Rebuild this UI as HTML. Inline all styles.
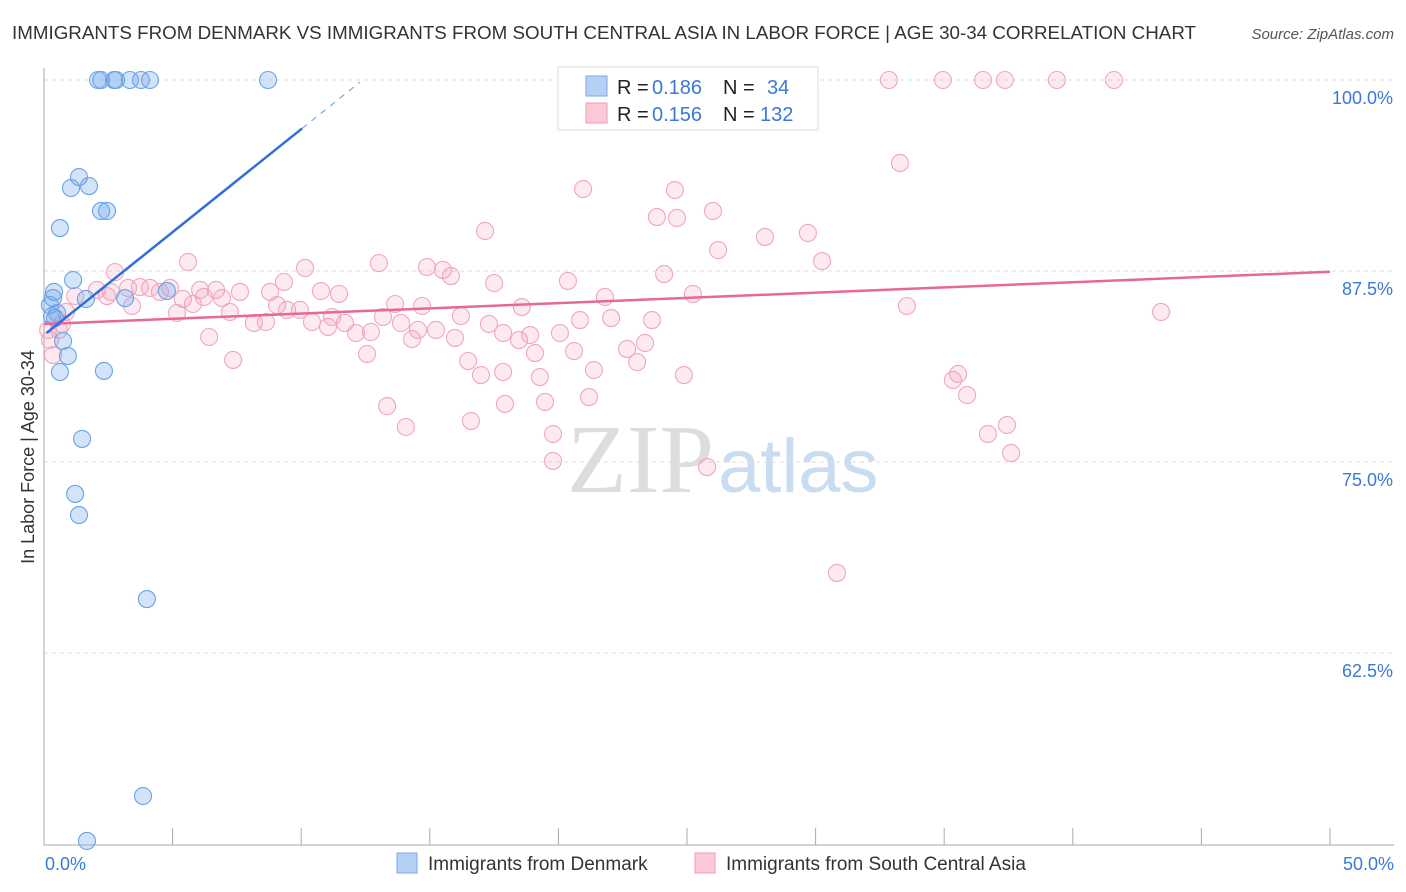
<!DOCTYPE html>
<html><head><meta charset="utf-8"><style>
body{margin:0;background:#fff;font-family:"Liberation Sans",sans-serif;}
#wrap{position:relative;width:1406px;height:892px;overflow:hidden;}
</style></head><body>
<div id="wrap">
<svg id="svg" width="1406" height="892" xmlns="http://www.w3.org/2000/svg" font-family="Liberation Sans, sans-serif">
<text x="12" y="39" font-size="18" fill="#333" textLength="1184" lengthAdjust="spacingAndGlyphs">IMMIGRANTS FROM DENMARK VS IMMIGRANTS FROM SOUTH CENTRAL ASIA IN LABOR FORCE | AGE 30-34 CORRELATION CHART</text>
<text x="1394" y="39" font-size="15" fill="#555" text-anchor="end" font-style="italic">Source: ZipAtlas.com</text>
<text x="0" y="0" transform="translate(34,457) rotate(-90)" font-size="18" fill="#333" text-anchor="middle">In Labor Force | Age 30-34</text>
<text x="714" y="492" font-size="98" fill="#ddd" text-anchor="end" font-family="Liberation Serif, serif">ZIP</text>
<text x="718" y="492" font-size="76" fill="#c9dcf0">atlas</text>
<g id="grid"></g><g id="axes"></g><g id="pts"></g><g id="lines"></g>
<g>
<rect x="558" y="67" width="260" height="63" fill="#fff" stroke="#ddd"/>
<rect x="586" y="76" width="21" height="20" fill="#b5d0f5" stroke="#7aaae8"/>
<rect x="586" y="103" width="21" height="20" fill="#fbc9d8" stroke="#f09ab5"/>
<text x="617" y="94" font-size="20" fill="#222">R =</text>
<text x="652" y="94" font-size="20" fill="#3b78d8">0.186</text>
<text x="723" y="94" font-size="20" fill="#222">N =</text>
<text x="767" y="94" font-size="20" fill="#3b78d8">34</text>
<text x="617" y="121" font-size="20" fill="#222">R =</text>
<text x="652" y="121" font-size="20" fill="#3b78d8">0.156</text>
<text x="723" y="121" font-size="20" fill="#222">N =</text>
<text x="760" y="121" font-size="20" fill="#3b78d8">132</text>
</g>
<g>
<rect x="397" y="853" width="20" height="20" fill="#b5d0f5" stroke="#7aaae8"/>
<text x="428" y="870" font-size="19" fill="#333">Immigrants from Denmark</text>
<rect x="695" y="853" width="20" height="20" fill="#fbc9d8" stroke="#f09ab5"/>
<text x="726" y="870" font-size="19" fill="#333">Immigrants from South Central Asia</text>
</g>
</svg></div>
<script>
const yTicks=[100,87.5,75,62.5];
const yTickLabels=["100.0%","87.5%","75.0%","62.5%"];
const xTickLabels=["0.0%","50.0%"];
const denX=[2.10,2.22,2.72,2.80,3.34,3.77,4.12,8.71,1.36,1.05,1.75,2.22,2.45,0.62,1.13,0.39,0.35,0.23,0.51,0.43,1.63,3.15,4.78,0.74,0.93,0.62,2.33,1.48,1.21,1.36,4.00,3.85,1.67,0.31];
const denY=[100,100,100,100,100,100,100,100,93.65,92.93,93.06,91.43,91.43,90.31,86.91,86.13,85.73,85.27,84.75,84.42,85.67,85.73,86.19,82.92,81.94,80.89,80.96,76.51,72.91,71.53,66.03,53.14,50.2,84.55];
const scaX=[32.85,34.95,36.51,37.36,39.38,41.6,33.28,20.96,24.53,23.83,24.61,26.01,28.03,29.70,26.21,17.15,30.25,5.60,13.02,14.89,15.51,15.82,10.15,2.76,24.11,20.37,17.50,9.33,21.81,25.23,33.55,43.43,18.58,13.65,14.70,10.77,11.47,8.79,7.62,6.69,6.07,4.90,4.51,4.12,3.73,3.27,2.60,2.06,1.21,0.86,0.70,2.45,3.42,5.40,5.79,6.22,6.92,7.23,8.16,8.63,9.06,9.45,9.95,10.42,11.04,11.20,11.70,12.13,12.71,13.18,13.88,14.31,14.54,15.24,15.98,16.21,17.30,17.85,18.47,18.90,19.09,20.06,20.84,22.05,23.64,22.67,23.37,23.06,20.61,21.38,16.49,16.99,17.85,19.28,12.56,7.35,6.42,5.17,24.88,35.34,35.54,35.89,36.70,37.44,37.60,13.34,14.07,16.60,17.92,19.48,21.19,19.79,19.79,25.78,30.83,29.24,0.35,0.23,0.58,0.16];
const scaY=[100,100,100,100,100,100,94.57,92.86,92.80,91.03,90.97,91.43,89.73,89.99,88.87,90.12,88.15,88.09,88.02,87.76,87.57,87.17,87.70,87.43,87.30,86.85,86.71,86.78,85.80,86.0,85.21,84.82,85.14,85.34,85.21,86.19,86.0,86.13,86.13,86.26,86.26,86.39,86.13,86.39,86.45,86.39,86.13,86.26,85.86,84.82,84.03,85.86,85.21,85.67,85.34,85.80,85.73,84.82,84.10,84.16,85.27,84.95,84.95,84.16,83.84,84.49,84.10,83.44,83.51,84.49,84.10,83.05,83.64,83.64,83.12,84.55,84.03,83.44,82.98,83.31,82.13,83.44,84.29,84.42,84.29,82.40,82.79,81.54,82.26,81.02,81.61,80.69,80.89,80.56,82.07,81.68,83.18,84.75,80.69,80.37,80.76,79.38,76.83,77.42,75.59,78.66,77.29,77.68,78.80,78.93,79.25,76.83,75.07,74.67,67.74,97.71,82.0,82.98,83.64,83.64];
const denTrend=[0.1,83.44,12.29,99.87];
const scaTrend=[0,84.03,50,87.45];
const X=v=>44+v/50*1286, Y=v=>80+(100-v)/12.5*191;
const NS="http://www.w3.org/2000/svg";
function mk(t,a,p){const e=document.createElementNS(NS,t);for(const k in a)e.setAttribute(k,a[k]);p.appendChild(e);return e;}
const grid=document.getElementById('grid'),axes=document.getElementById('axes'),pts=document.getElementById('pts'),lines=document.getElementById('lines');
yTicks.forEach((t,i)=>{
 const l=mk('line',{x1:44,x2:1394,y1:Y(t),y2:Y(t),stroke:'#ddd','stroke-dasharray':'4,4'},grid);
 
 
 const tx=mk('text',{x:1393,y:Y(t)+24,'font-size':18,fill:'#3b78d8','text-anchor':'end'},axes);
 tx.textContent=yTickLabels[i];
 
 
});
let a=mk('line',{x1:44,x2:44,y1:68,y2:845,stroke:'#aaa'},axes);


a=mk('line',{x1:44,x2:1394,y1:845,y2:845,stroke:'#aaa'},axes);


for(let i=0;i<=10;i++){const v=i*5;const t=mk('line',{x1:X(v),x2:X(v),y1:828,y2:845,stroke:'#aaa'},axes);
 
 }
[[0,'start',45],[50,'end',1394]].forEach((d,i)=>{const t=mk('text',{x:d[2],y:870,'font-size':18,fill:'#3b78d8','text-anchor':d[1]},axes);t.textContent=xTickLabels[i];
 
 });
scaX.forEach((x,i)=>{const c=mk('circle',{cx:X(x),cy:Y(scaY[i]),r:8.5,fill:'rgba(244,150,180,0.2)',stroke:'#f0a6be','stroke-width':1.1},pts);
 
 });
denX.forEach((x,i)=>{const c=mk('circle',{cx:X(x),cy:Y(denY[i]),r:8.5,fill:'rgba(110,165,235,0.3)',stroke:'#6aa3e8','stroke-width':1.1},pts);
 
 });
let L=mk('line',{x1:X(scaTrend[0]),y1:Y(scaTrend[1]),x2:X(scaTrend[2]),y2:Y(scaTrend[3]),stroke:'#e8679a','stroke-width':2.5},lines);


const f=0.815, mx=denTrend[0]+(denTrend[2]-denTrend[0])*f, my=denTrend[1]+(denTrend[3]-denTrend[1])*f;
L=mk('line',{x1:X(denTrend[0]),y1:Y(denTrend[1]),x2:X(mx),y2:Y(my),stroke:'#2f6fd6','stroke-width':2.5},lines);


L=mk('line',{x1:X(mx),y1:Y(my),x2:X(denTrend[2]),y2:Y(denTrend[3]),stroke:'#6d9de0','stroke-width':1,'stroke-dasharray':'6,6'},lines);


</script>
</body></html>
